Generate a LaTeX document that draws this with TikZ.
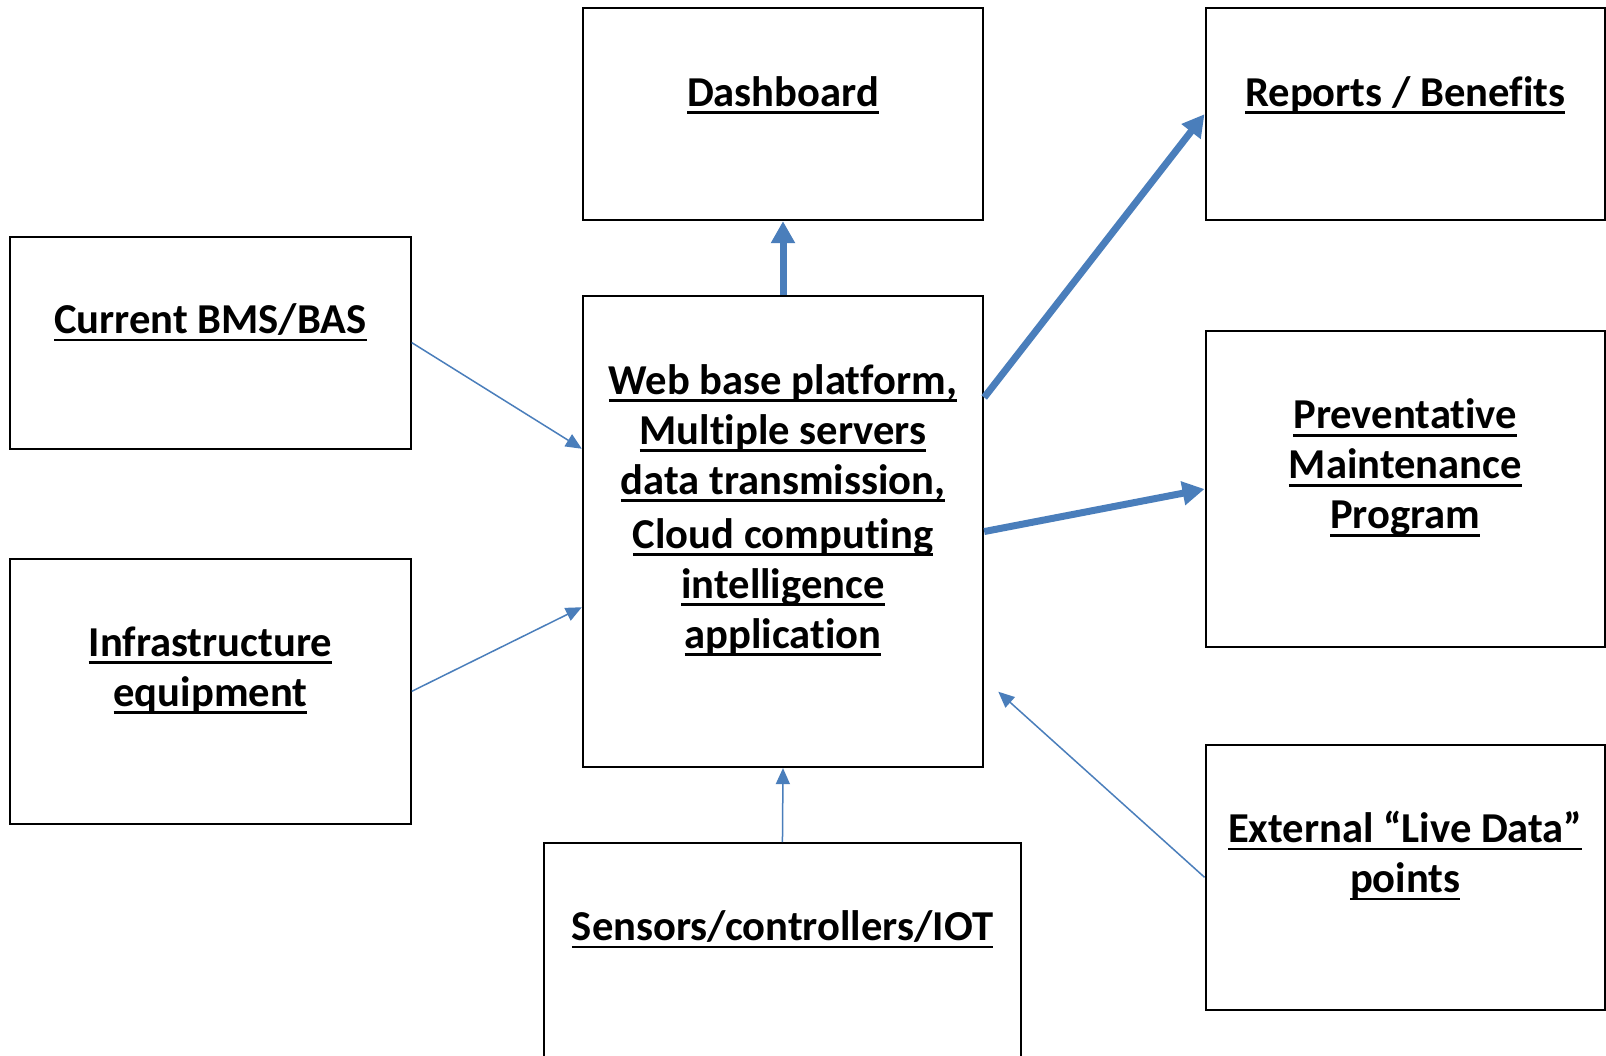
\documentclass[tikz,border=0pt]{standalone}
\usepackage{fontspec}
\setmainfont{Carlito}[Ligatures={NoCommon,TeX}]
\usetikzlibrary{arrows.meta,calc}
\definecolor{arrblue}{RGB}{74,126,187}
\newsavebox\ulbox
\newcommand\myul[1]{\sbox\ulbox{#1}\rlap{\rule[-7.7pt]{\wd\ulbox}{2.7pt}}\usebox\ulbox}
\newcommand\mlines[1]{\begin{tabular}[t]{@{}c@{}}#1\end{tabular}}
\begin{document}
\begin{tikzpicture}[x=1pt,y=-1pt,
  box/.style={draw=black, line width=2pt, rectangle, inner sep=0pt},
  lbl/.style={font=\fontsize{42.6}{50}\selectfont\bfseries, inner sep=0pt, anchor=base},
  thickarrow/.style={draw=arrblue, line width=7pt, -{Triangle[width=23pt,length=22pt]}, arrblue},
  thinarrow/.style={draw=arrblue, line width=1.5pt, -{Triangle[width=14pt,length=16pt]}, arrblue}]
\useasboundingbox (0,0) rectangle (1606,1055);
\clip (0,0) rectangle (1606,1055);
\fill[white] (0,0) rectangle (1606,1055);
% boxes
\node[box, minimum width=400.4pt, minimum height=212pt] (dash) at (783,114.2) {};
\node[box, minimum width=399.5pt, minimum height=212pt] (rep) at (1405.25,114.2) {};
\node[box, minimum width=400.5pt, minimum height=212pt] (bms) at (210.45,342.6) {};
\node[box, minimum width=400.4pt, minimum height=471.1pt] (center) at (783,531.55) {};
\node[box, minimum width=399.5pt, minimum height=316.5pt] (prev) at (1405.25,489.05) {};
\node[box, minimum width=400.5pt, minimum height=264.3pt] (infra) at (210.45,691.35) {};
\node[box, minimum width=399.5pt, minimum height=265.3pt] (ext) at (1405.25,877.25) {};
\node[box, minimum width=477.3pt, minimum height=257pt] (sens) at (782.45,971.5) {};
% labels
\node[lbl] (tdash) at (783,106) {\myul{Dashboard}};
\node[lbl] (trep) at (1405.25,106) {\myul{Reports / Benefits}};
\node[lbl] (tbms) at (210.45,333.6) {\myul{Current BMS/BAS}};
\node[lbl] (tcenter) at (783,394) {\mlines{\myul{Web base platform,}\\ \myul{Multiple servers}\\ \myul{data transmission,}\\[4pt] \myul{Cloud computing}\\ \myul{intelligence}\\ \myul{application}}};
\node[lbl] (tprev) at (1405.25,428.8) {\mlines{\myul{Preventative}\\ \myul{Maintenance}\\ \myul{Program}}};
\node[lbl] (tinfra) at (210.45,656.2) {\mlines{\myul{Infrastructure}\\ \myul{equipment}}};
\node[lbl] (text) at (1405.25,842.6) {\mlines{\myul{External “Live Data”}\\ \myul{points}}};
\node[lbl] (tsens) at (782.45,940.7) {\myul{Sensors/controllers/IOT}};
% connectors
\draw[thickarrow] (center.north) -- (dash.south);
\draw[thickarrow] ($(center.north east)!0.2166!(center.south east)$) -- (rep.west);
\draw[thickarrow] (center.east) -- (prev.west);
\draw[thinarrow] (bms.east) -- ($(center.north west)!0.325!(center.south west)$);
\draw[thinarrow] (infra.east) -- ($(center.north west)!0.66!(center.south west)$);
\draw[thinarrow] (sens.north) -- (center.south);
\coordinate (extend) at (998.3,691.7);
\draw[thinarrow] (ext.west) -- (extend);
\end{tikzpicture}
\end{document}
